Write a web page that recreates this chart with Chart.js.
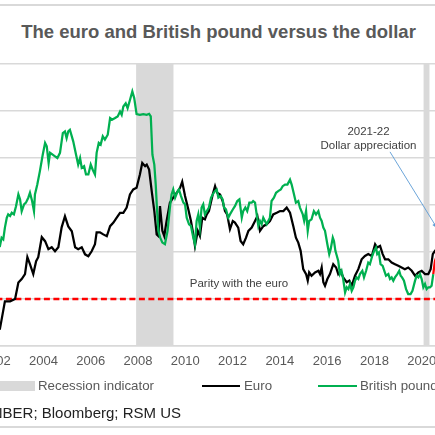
<!DOCTYPE html>
<html><head><meta charset="utf-8">
<script src="https://cdn.jsdelivr.net/npm/chart.js@4.4.1/dist/chart.umd.min.js"></script>
<style>
html,body{margin:0;padding:0;background:#fff;}
body{width:435px;height:435px;overflow:hidden;position:relative;font-family:"Liberation Sans",Arial,sans-serif;}
.t{position:absolute;white-space:nowrap;line-height:1.2;}
.c{transform:translate(-50%,-50%);}
.l{transform:translate(0,-50%);}
.rule{position:absolute;left:0;width:435px;height:1.5px;background:#d9d9d9;}
#cv{position:absolute;left:-100px;top:0;}
</style></head><body>
<div class="rule" style="top:4px"></div>
<div class="rule" style="top:426px"></div>
<div class="t c" style="left:218.5px;top:32px;font-weight:bold;font-size:18.5px;color:#595959;">The euro and British pound versus the dollar</div>
<canvas id="cv" width="635" height="435"></canvas>
<div class="t c" style="left:239px;top:284px;font-size:11.5px;color:#404040;">Parity with the euro</div>
<div class="t c" style="left:368.5px;top:138.5px;font-size:11.5px;color:#404040;text-align:center;line-height:1.28;">2021-22<br>Dollar appreciation</div>
<div style="position:absolute;left:-3px;top:381px;width:38px;height:10px;background:#d9d9d9;"></div>
<div class="t l" style="left:38px;top:386px;font-size:13.3px;color:#595959;">Recession indicator</div>
<div style="position:absolute;left:202px;top:385px;width:38px;height:2px;background:#000;"></div>
<div class="t l" style="left:244px;top:386px;font-size:13.3px;color:#595959;">Euro</div>
<div style="position:absolute;left:318px;top:385px;width:39px;height:2px;background:#00b050;"></div>
<div class="t l" style="left:360px;top:386px;font-size:13.3px;color:#595959;">British pound</div>
<div class="t" style="right:254px;top:404px;font-size:15px;color:#222;">Source: NBER; Bloomberg; RSM US</div>
<script>
// ---- data ----
const euroDates = [2001.9,2002.16,2002.37,2002.45,2002.59,2002.80,2002.94,2003.08,2003.22,2003.32,2003.43,2003.57,2003.69,2003.78,2003.93,2004.07,2004.21,2004.35,2004.49,2004.63,2004.77,2004.91,2005.05,2005.20,2005.34,2005.47,2005.62,2005.76,2005.90,2006.04,2006.18,2006.25,2006.39,2006.53,2006.68,2006.82,2006.96,2007.10,2007.24,2007.38,2007.52,2007.66,2007.80,2007.94,2008.08,2008.18,2008.30,2008.37,2008.47,2008.58,2008.69,2008.79,2008.86,2008.93,2009.03,2009.11,2009.21,2009.35,2009.49,2009.64,2009.78,2009.87,2009.99,2010.13,2010.24,2010.34,2010.41,2010.53,2010.62,2010.72,2010.83,2010.91,2011.00,2011.16,2011.26,2011.35,2011.47,2011.58,2011.68,2011.77,2011.89,2012.01,2012.10,2012.24,2012.34,2012.45,2012.57,2012.67,2012.81,2012.95,2013.05,2013.16,2013.30,2013.44,2013.58,2013.72,2013.87,2014.01,2014.15,2014.29,2014.43,2014.57,2014.68,2014.78,2014.88,2014.99,2015.11,2015.18,2015.24,2015.34,2015.49,2015.63,2015.70,2015.77,2015.84,2015.91,2016.01,2016.12,2016.26,2016.38,2016.47,2016.57,2016.68,2016.83,2016.94,2017.04,2017.18,2017.32,2017.46,2017.60,2017.74,2017.89,2018.03,2018.12,2018.24,2018.35,2018.45,2018.59,2018.73,2018.87,2019.01,2019.15,2019.29,2019.43,2019.58,2019.72,2019.86,2020.00,2020.14,2020.28,2020.38,2020.47,2020.56,2020.70];
const euroValues = [0.870,0.873,0.990,0.990,0.990,1.000,1.070,1.085,1.106,1.178,1.148,1.106,1.161,1.178,1.263,1.246,1.212,1.220,1.203,1.220,1.305,1.352,1.309,1.288,1.220,1.212,1.220,1.190,1.182,1.203,1.233,1.284,1.284,1.275,1.267,1.310,1.325,1.346,1.367,1.367,1.389,1.445,1.466,1.473,1.530,1.579,1.565,1.572,1.551,1.459,1.374,1.275,1.268,1.395,1.290,1.268,1.332,1.410,1.431,1.452,1.473,1.499,1.438,1.381,1.332,1.275,1.226,1.290,1.268,1.346,1.339,1.360,1.374,1.445,1.480,1.452,1.445,1.417,1.374,1.360,1.297,1.332,1.325,1.304,1.247,1.233,1.261,1.290,1.304,1.332,1.353,1.290,1.310,1.318,1.332,1.360,1.367,1.374,1.374,1.389,1.367,1.310,1.261,1.240,1.205,1.127,1.106,1.078,1.113,1.099,1.113,1.120,1.106,1.134,1.071,1.056,1.085,1.106,1.148,1.134,1.106,1.120,1.092,1.071,1.078,1.056,1.099,1.127,1.169,1.183,1.191,1.183,1.233,1.219,1.226,1.191,1.169,1.169,1.155,1.148,1.141,1.134,1.127,1.134,1.120,1.099,1.113,1.120,1.106,1.106,1.127,1.191,1.205,1.220];
const poundDates = [2001.9,2002.16,2002.23,2002.30,2002.37,2002.45,2002.51,2002.59,2002.66,2002.75,2002.84,2002.94,2003.01,2003.08,2003.18,2003.26,2003.36,2003.43,2003.52,2003.60,2003.64,2003.74,2003.85,2003.97,2004.07,2004.14,2004.22,2004.28,2004.39,2004.49,2004.59,2004.70,2004.82,2004.91,2004.98,2005.05,2005.12,2005.20,2005.26,2005.38,2005.47,2005.55,2005.62,2005.72,2005.80,2005.90,2006.00,2006.08,2006.18,2006.25,2006.34,2006.42,2006.51,2006.60,2006.72,2006.82,2006.91,2007.03,2007.14,2007.24,2007.31,2007.38,2007.48,2007.56,2007.66,2007.76,2007.84,2007.94,2008.08,2008.22,2008.37,2008.47,2008.54,2008.61,2008.69,2008.75,2008.80,2008.86,2008.94,2009.03,2009.14,2009.25,2009.35,2009.42,2009.49,2009.57,2009.68,2009.73,2009.82,2009.92,2009.99,2010.06,2010.16,2010.24,2010.34,2010.41,2010.48,2010.55,2010.62,2010.69,2010.76,2010.83,2010.91,2011.00,2011.09,2011.18,2011.26,2011.33,2011.40,2011.50,2011.58,2011.64,2011.72,2011.82,2011.89,2012.01,2012.10,2012.20,2012.29,2012.39,2012.45,2012.54,2012.62,2012.71,2012.81,2012.87,2012.95,2013.02,2013.09,2013.16,2013.23,2013.30,2013.37,2013.44,2013.51,2013.58,2013.65,2013.75,2013.84,2013.93,2014.04,2014.12,2014.22,2014.32,2014.43,2014.50,2014.60,2014.68,2014.78,2014.85,2014.97,2015.03,2015.11,2015.18,2015.24,2015.34,2015.44,2015.53,2015.63,2015.70,2015.77,2015.84,2015.91,2016.01,2016.09,2016.15,2016.24,2016.29,2016.35,2016.41,2016.47,2016.54,2016.61,2016.68,2016.76,2016.83,2016.90,2016.97,2017.04,2017.11,2017.18,2017.25,2017.32,2017.39,2017.49,2017.56,2017.65,2017.74,2017.81,2017.91,2017.99,2018.07,2018.12,2018.19,2018.26,2018.35,2018.42,2018.49,2018.59,2018.66,2018.73,2018.80,2018.87,2018.97,2019.05,2019.11,2019.17,2019.25,2019.34,2019.43,2019.53,2019.61,2019.72,2019.79,2019.86,2019.93,2020.00,2020.07,2020.14,2020.21,2020.28,2020.35,2020.42,2020.49,2020.56,2020.70];
const poundValues = [1.430,1.426,1.461,1.454,1.504,1.546,1.560,1.553,1.567,1.560,1.595,1.645,1.624,1.574,1.603,1.610,1.631,1.652,1.617,1.574,1.645,1.687,1.744,1.814,1.864,1.850,1.779,1.822,1.814,1.807,1.800,1.822,1.906,1.913,1.885,1.913,1.920,1.892,1.871,1.814,1.772,1.800,1.758,1.765,1.730,1.730,1.772,1.751,1.730,1.822,1.864,1.857,1.892,1.878,1.899,1.970,1.963,1.970,1.977,1.998,1.984,2.019,2.033,2.012,2.047,2.083,2.055,1.987,1.984,1.987,1.984,1.988,1.977,1.814,1.772,1.687,1.589,1.490,1.461,1.440,1.433,1.490,1.589,1.645,1.666,1.631,1.659,1.666,1.638,1.610,1.603,1.546,1.518,1.511,1.461,1.433,1.532,1.560,1.504,1.589,1.603,1.560,1.574,1.589,1.631,1.648,1.660,1.666,1.631,1.638,1.624,1.589,1.581,1.546,1.560,1.581,1.595,1.617,1.624,1.546,1.574,1.589,1.574,1.610,1.610,1.617,1.610,1.560,1.511,1.532,1.518,1.546,1.532,1.518,1.532,1.546,1.617,1.631,1.652,1.659,1.666,1.680,1.687,1.687,1.708,1.687,1.645,1.610,1.617,1.589,1.560,1.532,1.574,1.490,1.532,1.539,1.574,1.560,1.574,1.546,1.532,1.504,1.490,1.433,1.391,1.412,1.461,1.447,1.405,1.384,1.362,1.306,1.320,1.285,1.228,1.250,1.242,1.264,1.235,1.250,1.278,1.292,1.285,1.306,1.320,1.292,1.320,1.355,1.348,1.384,1.405,1.419,1.391,1.398,1.348,1.341,1.320,1.299,1.306,1.285,1.292,1.278,1.292,1.306,1.320,1.299,1.292,1.278,1.242,1.221,1.221,1.235,1.278,1.299,1.292,1.306,1.285,1.250,1.264,1.242,1.250,1.250,1.257,1.306,1.362,1.400];
const recessionStarts = [2007.92, 2020.08];
const recessionEnds   = [2009.50, 2020.33];
const parityLevel = 1.0;
const parityDates = [2000, 2022];
const highlightFrom = 2020.45;          // start of red-highlighted pound segment
const arrowFrom = [2018.66, 1.626];     // annotation arrow (year, euro-axis value)
const arrowTo   = [2020.66, 1.30];
const xMin = 2000, xMax = 2022, xStep = 2;
const euroAxis = [0.8, 2.0, 0.2];
const poundAxis = [1.0, 2.2];

const GREEN = '#00b050', GRID = '#d9d9d9';

const recessionPlugin = {
  id: 'recession',
  beforeDatasetsDraw(chart) {
    const {ctx, chartArea, scales} = chart;
    ctx.save();
    ctx.fillStyle = GRID;
    recessionStarts.forEach((s, i) => {
      const x0 = scales.x.getPixelForValue(s), x1 = scales.x.getPixelForValue(recessionEnds[i]);
      ctx.fillRect(x0, chartArea.top, x1 - x0, chartArea.bottom - chartArea.top);
    });
    ctx.restore();
  }
};
const arrowPlugin = {
  id: 'arrow',
  afterDatasetsDraw(chart) {
    const {ctx, scales} = chart;
    const x0 = scales.x.getPixelForValue(arrowFrom[0]), y0 = scales.y.getPixelForValue(arrowFrom[1]);
    const x1 = scales.x.getPixelForValue(arrowTo[0]), y1 = scales.y.getPixelForValue(arrowTo[1]);
    ctx.save();
    ctx.strokeStyle = '#5b9bd5'; ctx.fillStyle = '#5b9bd5'; ctx.lineWidth = 0.9;
    ctx.beginPath(); ctx.moveTo(x0, y0); ctx.lineTo(x1, y1); ctx.stroke();
    const a = Math.atan2(y1 - y0, x1 - x0), L = 6;
    ctx.beginPath(); ctx.moveTo(x1, y1);
    ctx.lineTo(x1 - L*Math.cos(a - 0.4), y1 - L*Math.sin(a - 0.4));
    ctx.lineTo(x1 - L*Math.cos(a + 0.4), y1 - L*Math.sin(a + 0.4));
    ctx.closePath(); ctx.fill();
    ctx.restore();
  }
};

const toXY = (ds, vs) => ds.map((d, i) => ({x: d, y: vs[i]}));

new Chart(document.getElementById('cv'), {
  type: 'line',
  data: {
    datasets: [
      { label: 'British pound', data: toXY(poundDates, poundValues), yAxisID: 'y2',
        borderColor: GREEN, borderWidth: 2.25, pointRadius: 0, tension: 0,
        segment: { borderColor: c => c.p0.parsed.x >= highlightFrom ? '#ff0000' : GREEN } },
      { label: 'Euro', data: toXY(euroDates, euroValues), yAxisID: 'y',
        borderColor: '#000000', borderWidth: 2.25, pointRadius: 0, tension: 0 },
      { label: 'Parity', data: parityDates.map(d => ({x: d, y: parityLevel})), yAxisID: 'y',
        borderColor: '#ff0000', borderWidth: 2.5, borderDash: [6, 3.5], pointRadius: 0 }
    ]
  },
  options: {
    responsive: false, animation: false, devicePixelRatio: window.devicePixelRatio || 1,
    layout: { padding: { left: 48.88, right: 66.04, top: 64, bottom: 57.4 } },
    plugins: { legend: { display: false }, tooltip: { enabled: false } },
    scales: {
      x: { type: 'linear', min: xMin, max: xMax,
           ticks: { stepSize: xStep, padding: 8, maxRotation: 0, autoSkip: false, color: '#595959',
                    font: { family: 'Liberation Sans, Arial', size: 13 }, callback: v => String(v) },
           grid: { display: false, drawTicks: false },
           border: { display: true, color: GRID, width: 1.5 } },
      y: { min: euroAxis[0], max: euroAxis[1], position: 'left',
           ticks: { stepSize: euroAxis[2], display: false },
           grid: { color: GRID, lineWidth: 1.5, drawTicks: false },
           border: { display: false } },
      y2: { min: poundAxis[0], max: poundAxis[1], position: 'right', display: false }
    }
  },
  plugins: [recessionPlugin, arrowPlugin]
});
</script>
</body></html>
